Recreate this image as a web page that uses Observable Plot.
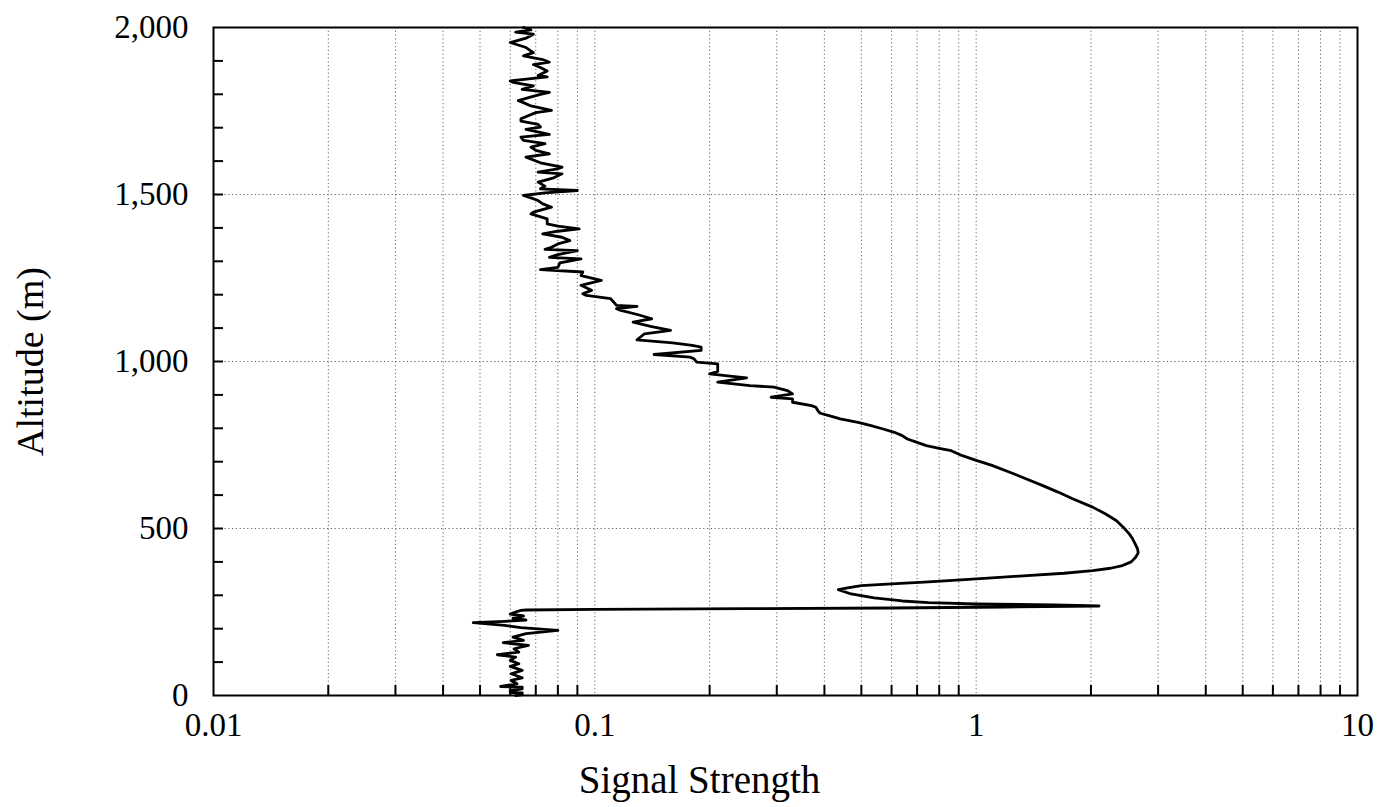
<!DOCTYPE html>
<html><head><meta charset="utf-8">
<script src="https://cdn.jsdelivr.net/npm/d3@7"></script>
<script src="https://cdn.jsdelivr.net/npm/@observablehq/plot@0.6"></script>
<style>html,body{margin:0;padding:0;background:#fff}</style>
</head><body><div id="chart"></div>
<script>
// [altitude (m), signal strength]
const surfaceNoise = [[0,0.062],[3,0.0645],[8,0.0645],[9,0.060],[15,0.060],[20,0.0645],[25,0.0645],[27,0.0566],[35,0.0625],[45,0.0603],[53,0.0645],[65,0.0603],[75,0.0645],[87,0.060],[95,0.0632],[105,0.060],[115,0.062],[122,0.0555],[130,0.0632],[140,0.0614],[150,0.067],[158,0.0575],[165,0.065],[175,0.061],[185,0.066],[195,0.080],[203,0.064],[210,0.058],[218,0.048],[222,0.058],[226,0.066],[232,0.061],[238,0.065],[244,0.060],[250,0.062],[255,0.064]];
const echoLayer = [[256,0.066],[258,0.10],[260,0.25],[262,0.6],[265,1.2],[268,2.1],[271,1.6],[274,1.0],[278,0.75],[283,0.64],[292,0.54],[304,0.47],[317,0.435],[322,0.46],[329,0.5],[334,0.6],[340,0.75],[346,0.91],[352,1.1],[359,1.36],[366,1.7],[374,2.02],[381,2.25],[389,2.42],[400,2.55],[414,2.62],[427,2.66],[439,2.65],[455,2.61],[470,2.57],[484,2.52],[504,2.43],[524,2.33],[544,2.18],[564,2.02],[589,1.79],[609,1.64],[629,1.49],[649,1.35],[669,1.22],[689,1.1],[704,1.0],[718,0.92],[733,0.86],[740,0.80],[748,0.74],[758,0.70],[768,0.66],[778,0.64],[788,0.61],[798,0.57],[808,0.53],[818,0.49],[828,0.44],[835,0.42],[845,0.39],[852,0.385],[863,0.38]];
const transition = [[868,0.37],[878,0.33],[888,0.33],[893,0.29],[903,0.33],[913,0.32],[923,0.295],[928,0.255],[938,0.21],[951,0.25],[958,0.22],[963,0.20],[970,0.21],[978,0.21],[993,0.21],[998,0.185],[1008,0.182],[1013,0.178],[1021,0.143],[1033,0.19],[1043,0.19],[1048,0.18],[1056,0.16],[1065,0.129],[1083,0.135],[1093,0.158],[1105,0.14],[1118,0.126],[1128,0.141],[1140,0.13],[1153,0.117],[1158,0.114],[1165,0.129],[1168,0.114],[1178,0.112],[1188,0.11],[1198,0.095],[1203,0.093],[1213,0.098],[1228,0.092],[1243,0.104],[1257,0.092],[1268,0.093],[1275,0.072],[1282,0.08],[1295,0.081],[1302,0.087]];
const upperNoise = [[1307,0.092],[1312,0.076],[1320,0.08],[1332,0.09],[1336,0.074],[1342,0.077],[1352,0.08],[1362,0.086],[1372,0.082],[1382,0.073],[1390,0.08],[1397,0.091],[1405,0.08],[1412,0.075],[1427,0.075],[1442,0.068],[1447,0.069],[1462,0.077],[1472,0.073],[1482,0.071],[1490,0.068],[1497,0.065],[1505,0.074],[1512,0.09],[1517,0.072],[1525,0.074],[1537,0.071],[1550,0.078],[1562,0.082],[1567,0.071],[1577,0.08],[1582,0.082],[1595,0.072],[1612,0.066],[1622,0.076],[1632,0.07],[1642,0.068],[1652,0.074],[1662,0.065],[1672,0.064],[1680,0.076],[1695,0.066],[1702,0.072],[1710,0.071],[1720,0.064],[1727,0.064],[1745,0.07],[1752,0.077],[1765,0.068],[1775,0.065],[1781,0.063],[1790,0.067],[1800,0.072],[1806,0.076],[1815,0.0645],[1825,0.069],[1836,0.061],[1840,0.06],[1852,0.075],[1856,0.071],[1870,0.075],[1880,0.072],[1889,0.069],[1896,0.076],[1904,0.073],[1915,0.065],[1925,0.069],[1940,0.066],[1955,0.06],[1968,0.066],[1980,0.069],[1986,0.062],[1993,0.068],[2000,0.065]];

const xMajorTicks = [0.01, 0.1, 1, 10];
const xMinorTicks = [0.02,0.03,0.04,0.05,0.06,0.07,0.08,0.09,0.2,0.3,0.4,0.5,0.6,0.7,0.8,0.9,2,3,4,5,6,7,8,9];
const xGridTicks = [0.02,0.03,0.04,0.05,0.06,0.07,0.08,0.09,0.1,0.2,0.3,0.4,0.5,0.6,0.7,0.8,0.9,1,2,3,4,5,6,7,8,9];
const yMajorTicks = [0, 500, 1000, 1500, 2000];
const yGridTicks = [500, 1000, 1500];
const yMinorTicks = [100,200,300,400,500,600,700,800,900,1000,1100,1200,1300,1400,1500,1600,1700,1800,1900];
const xTitle = "Signal Strength";
const yTitle = "Altitude (m)";

const profile = [...surfaceNoise, ...echoLayer, ...transition, ...upperNoise].map(([alt, sig]) => ({alt, sig}));

const font = "'Liberation Serif', 'Times New Roman', Times, serif";
const plot = Plot.plot({
  width: 1380, height: 807,
  marginLeft: 213, marginRight: 23, marginTop: 27, marginBottom: 112,
  style: {fontFamily: font, fontSize: "33px", color: "black", background: "white"},
  x: {type: "log", domain: [0.01, 10]},
  y: {domain: [0, 2000]},
  marks: [
    Plot.ruleX(xGridTicks, {stroke: "#666", strokeWidth: 1, strokeDasharray: "1.2,2.6"}),
    Plot.ruleY(yGridTicks, {stroke: "#666", strokeWidth: 1, strokeDasharray: "1.2,2.6"}),
    Plot.axisX(xMinorTicks, {tickSize: -10, tickFormat: () => "", strokeWidth: 2, label: null}),
    Plot.axisY(yMinorTicks, {tickSize: -10, tickFormat: () => "", strokeWidth: 2, label: null}),
    Plot.axisX(xMajorTicks, {tickSize: 0, tickPadding: 17, fontSize: 33, tickFormat: d => String(d), label: null}),
    Plot.axisY(yMajorTicks, {tickSize: 0, tickPadding: 25, fontSize: 33, tickFormat: d3.format(","), label: null}),
    Plot.axisY({ticks: [], tickSize: 0, label: yTitle, labelAnchor: "center", labelArrow: "none", labelOffset: 197, fontSize: 38}),
    Plot.text([xTitle], {text: d => d, frameAnchor: "bottom", lineAnchor: "middle", dy: 85, dx: -86, fontSize: 39, fill: "black"}),
    Plot.frame({stroke: "black", strokeWidth: 2}),
    Plot.line(profile, {x: "sig", y: "alt", stroke: "black", strokeWidth: 2.8, strokeLinejoin: "round"})
  ]
});
document.getElementById("chart").appendChild(plot);
</script>
</body></html>
